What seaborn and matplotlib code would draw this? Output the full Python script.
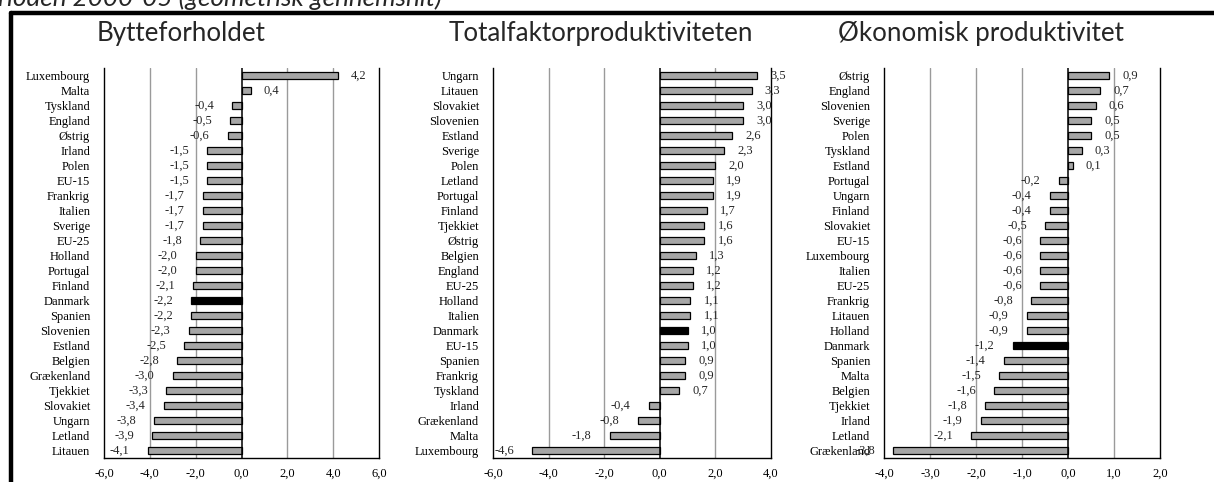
"""
Bytteforhold og produktivitet, EU-lande
=======================================

Tre vandrette soejlediagrammer, perioden 2000-05 (geometrisk gennemsnit).
"""

# Libraries
import pandas as pd
import seaborn as sns
import matplotlib.pyplot as plt
from matplotlib.lines import Line2D
from matplotlib.ticker import FuncFormatter

# Seaborn
sns.set_theme(style="white")
plt.rcParams['font.family'] = ['Liberation Serif', 'DejaVu Serif']

# ---------------------------------
# Data
# ---------------------------------
bytte_lande = ['Luxembourg', 'Malta', 'Tyskland', 'England', 'Østrig', 'Irland',
               'Polen', 'EU-15', 'Frankrig', 'Italien', 'Sverige', 'EU-25',
               'Holland', 'Portugal', 'Finland', 'Danmark', 'Spanien',
               'Slovenien', 'Estland', 'Belgien', 'Grækenland', 'Tjekkiet',
               'Slovakiet', 'Ungarn', 'Letland', 'Litauen']
bytte_vaerdi = [4.2, 0.4, -0.4, -0.5, -0.6, -1.5, -1.5, -1.5, -1.7, -1.7, -1.7,
                -1.8, -2.0, -2.0, -2.1, -2.2, -2.2, -2.3, -2.5, -2.8, -3.0, -3.3,
                -3.4, -3.8, -3.9, -4.1]

tfp_lande = ['Ungarn', 'Litauen', 'Slovakiet', 'Slovenien', 'Estland', 'Sverige',
             'Polen', 'Letland', 'Portugal', 'Finland', 'Tjekkiet', 'Østrig',
             'Belgien', 'England', 'EU-25', 'Holland', 'Italien', 'Danmark',
             'EU-15', 'Spanien', 'Frankrig', 'Tyskland', 'Irland', 'Grækenland',
             'Malta', 'Luxembourg']
tfp_vaerdi = [3.5, 3.3, 3.0, 3.0, 2.6, 2.3, 2.0, 1.9, 1.9, 1.7, 1.6, 1.6, 1.3,
              1.2, 1.2, 1.1, 1.1, 1.0, 1.0, 0.9, 0.9, 0.7, -0.4, -0.8, -1.8, -4.6]

oek_lande = ['Østrig', 'England', 'Slovenien', 'Sverige', 'Polen', 'Tyskland',
             'Estland', 'Portugal', 'Ungarn', 'Finland', 'Slovakiet', 'EU-15',
             'Luxembourg', 'Italien', 'EU-25', 'Frankrig', 'Litauen', 'Holland',
             'Danmark', 'Spanien', 'Malta', 'Belgien', 'Tjekkiet', 'Irland',
             'Letland', 'Grækenland']
oek_vaerdi = [0.9, 0.7, 0.6, 0.5, 0.5, 0.3, 0.1, -0.2, -0.4, -0.4, -0.5, -0.6,
              -0.6, -0.6, -0.6, -0.8, -0.9, -0.9, -1.2, -1.4, -1.5, -1.6, -1.8,
              -1.9, -2.1, -3.8]

titler = ['Bytteforholdet', 'Totalfaktorproduktiviteten', 'Økonomisk produktivitet']
xticks = [[-6, -4, -2, 0, 2, 4, 6],
          [-6, -4, -2, 0, 2, 4],
          [-4, -3, -2, -1, 0, 1, 2]]


# ---------------------------------
# Methods
# ---------------------------------
def komma(x, pos=None):
    return f"{x:.1f}".replace('.', ',')


def panel(ax, lande, vaerdi, ticks):
    """Draw one horizontal bar panel."""
    df = pd.DataFrame({'land': lande, 'vaerdi': vaerdi})
    pal = {l: ('black' if l == 'Danmark' else '#a6a6a6') for l in lande}
    sns.barplot(data=df, x='vaerdi', y='land', hue='land', palette=pal,
                order=lande, width=0.47, edgecolor='black', linewidth=0.9,
                legend=False, ax=ax, saturation=1)

    # Gridlines and zero line
    for t in ticks[1:-1]:
        if t == 0:
            ax.axvline(0, color='black', lw=1.1, zorder=3)
        else:
            ax.axvline(t, color='#9a9a9a', lw=1.0, zorder=0)

    # Value labels
    for i, v in enumerate(vaerdi):
        if v >= 0:
            ax.annotate(komma(v), xy=(v, i), xytext=(9.5, 0),
                        textcoords='offset points', ha='left', va='center',
                        fontsize=9)
        else:
            ax.annotate(komma(v), xy=(v, i), xytext=(-13, 0),
                        textcoords='offset points', ha='right', va='center',
                        fontsize=9)

    # Axes
    ax.set_xlim(ticks[0], ticks[-1])
    ax.set_ylim(len(lande) - 0.5, -0.5)
    ax.set_xticks(ticks)
    ax.xaxis.set_major_formatter(FuncFormatter(komma))
    ax.set_xlabel('')
    ax.set_ylabel('')
    ax.tick_params(axis='both', length=0, labelsize=9, colors='black')
    ax.tick_params(axis='y', pad=10)
    ax.tick_params(axis='x', pad=7)
    ax.spines['top'].set_visible(False)
    for s in ['left', 'right', 'bottom']:
        ax.spines[s].set_color('black')
        ax.spines[s].set_linewidth(1.0)


# ---------------------------------
# Main
# ---------------------------------
fig = plt.figure(figsize=(12.14, 4.82), dpi=100)

pos = [[0.0857, 0.0498, 0.2265, 0.809],
       [0.4061, 0.0498, 0.2290, 0.809],
       [0.7282, 0.0498, 0.2273, 0.809]]
data = [(bytte_lande, bytte_vaerdi), (tfp_lande, tfp_vaerdi), (oek_lande, oek_vaerdi)]

for p, (lande, vaerdi), ticks in zip(pos, data, xticks):
    ax = fig.add_axes(p)
    panel(ax, lande, vaerdi, ticks)

# Titles
for x, t in zip([0.149, 0.495, 0.808], titler):
    fig.text(x, 0.915, t, ha='center', va='baseline', fontsize=18.7,
             family=['Lato', 'DejaVu Sans'])

# Caption line, cut by the top edge
fig.text(-0.024, 0.9876, 'Perioden 2000-05 (geometrisk gennemsnit)',
         ha='left', va='baseline', fontsize=18.7, style='italic',
         family=['Lato', 'DejaVu Sans'])

# Frame
fig.add_artist(Line2D([0.0090, 1.0], [0.9730, 0.9730], color='black', lw=3.2,
                      transform=fig.transFigure))
fig.add_artist(Line2D([0.0090, 0.0090], [0.0, 0.9730], color='black', lw=3.2,
                      transform=fig.transFigure))

fig.savefig('out.png', dpi=100)
